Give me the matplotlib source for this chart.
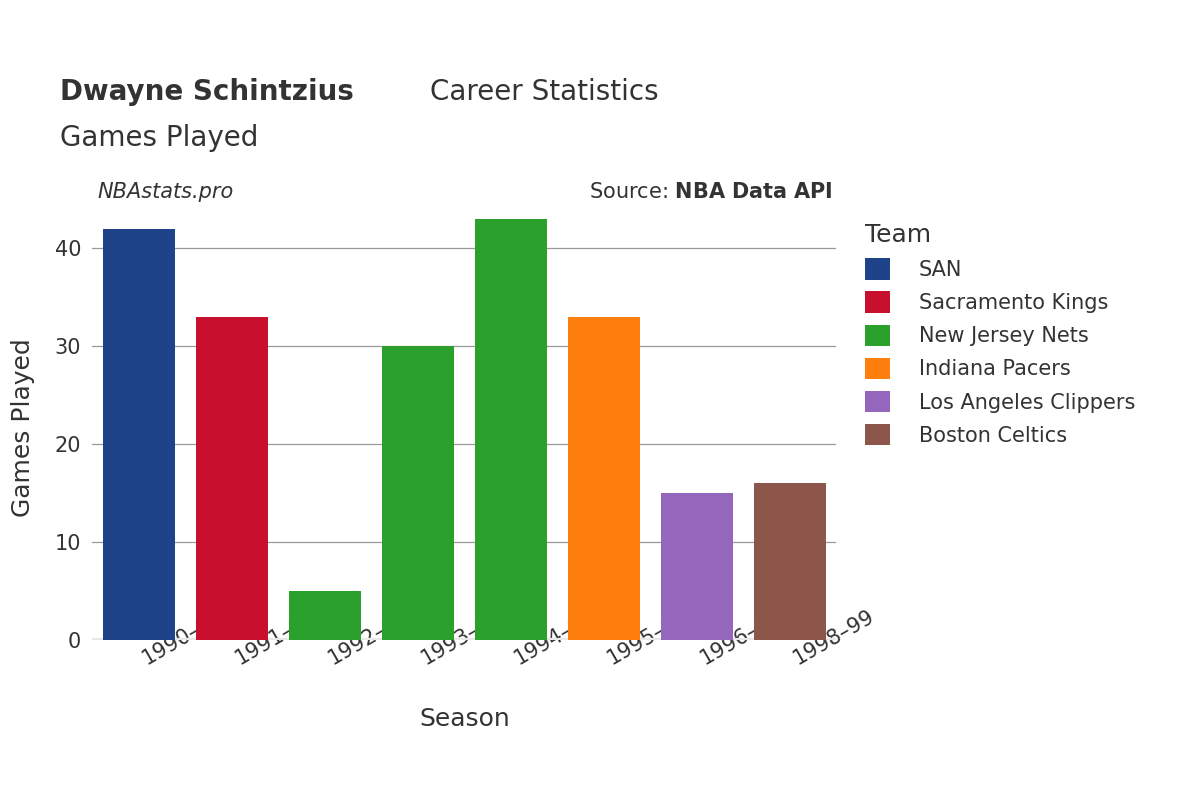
import matplotlib.pyplot as plt
from matplotlib.patches import Patch

seasons = ["1990–91", "1991–92", "1992–93", "1993–94", "1994–95", "1995–96", "1996–97", "1998–99"]
games = [42, 33, 5, 30, 43, 33, 15, 16]
teams = ["SAN", "Sacramento Kings", "New Jersey Nets", "New Jersey Nets",
         "New Jersey Nets", "Indiana Pacers", "Los Angeles Clippers", "Boston Celtics"]
team_colors = {
    "SAN": "#1f4388",
    "Sacramento Kings": "#c8102e",
    "New Jersey Nets": "#2ca02c",
    "Indiana Pacers": "#ff7f0e",
    "Los Angeles Clippers": "#9467bd",
    "Boston Celtics": "#8c564b",
}

text_col = "#333333"
fig = plt.figure(figsize=(12, 8), dpi=100)
ax = fig.add_axes([0.077, 0.2, 0.62, 0.53])

x = range(len(seasons))
ax.bar(x, games, width=0.78, color=[team_colors[t] for t in teams], zorder=3)
ax.set_xlim(-0.5, len(seasons) - 0.5)
ax.set_ylim(0, 43.3)
ax.set_yticks([0, 10, 20, 30, 40])
ax.grid(axis="y", color="#999999", linewidth=0.9, zorder=0)
ax.axhline(0, color="#e8e8e8", linewidth=3, zorder=2)
for s in ax.spines.values():
    s.set_visible(False)
ax.tick_params(length=0, labelsize=15, colors=text_col, pad=8)
ax.set_xticks(list(x))
ax.set_xticklabels(seasons, rotation=30, ha="left", va="top", rotation_mode="anchor")
ax.set_xlabel("Season", fontsize=18, color=text_col, labelpad=28)
ax.set_ylabel("Games Played", fontsize=18, color=text_col, labelpad=14)

fig.text(0.05, 0.875, "Dwayne Schintzius", fontsize=20, fontweight="bold", color=text_col)
fig.text(0.358, 0.875, "Career Statistics", fontsize=20, color=text_col)
fig.text(0.05, 0.818, "Games Played", fontsize=20, color=text_col)
fig.text(0.081, 0.752, "NBAstats.pro", fontsize=15, style="italic", color=text_col)
fig.text(0.694, 0.752, "Source: $\\bf{NBA\\ Data\\ API}$", fontsize=15, ha="right", color=text_col)

handles = [Patch(facecolor=c, label=t) for t, c in team_colors.items()]
leg = fig.legend(handles=handles, loc="upper left", bbox_to_anchor=(0.705, 0.745),
                 frameon=False, fontsize=15, title="Team", title_fontsize=18,
                 handlelength=1.2, handleheight=1.2, labelspacing=0.55, handletextpad=1.4)
leg._legend_box.align = "left"
for t in leg.get_texts():
    t.set_color(text_col)
leg.get_title().set_color(text_col)

fig.savefig("out.png")
